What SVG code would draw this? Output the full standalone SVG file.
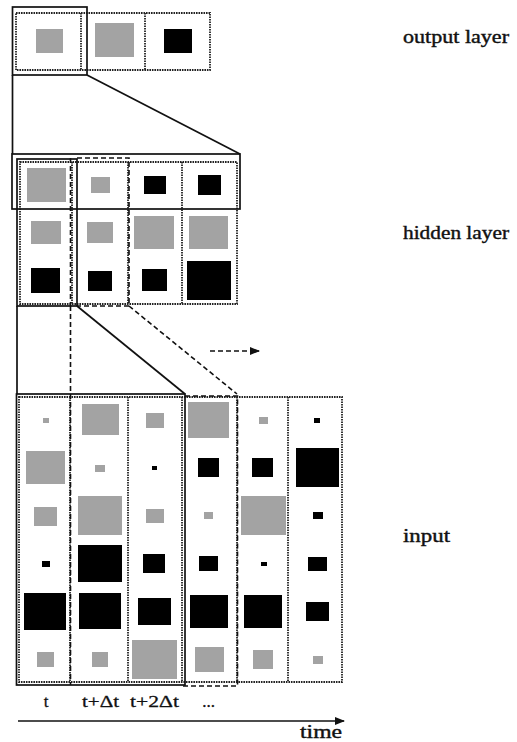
<svg xmlns="http://www.w3.org/2000/svg" width="517" height="742" viewBox="0 0 517 742">
<style>
.g{fill:#a3a3a3}
.b{fill:#000}
.dot{fill:none;stroke:#222;stroke-width:1.8;stroke-dasharray:1.6 0.9}
.dash{fill:none;stroke:#111;stroke-width:1.6;stroke-dasharray:5 3}
.sol{fill:none;stroke:#111;stroke-width:1.7}
.lbl{font-family:"Liberation Serif",serif;font-size:18px;fill:#111;stroke:#111;stroke-width:0.4}
.tl{font-family:"Liberation Serif",serif;font-size:17px;fill:#111;stroke:#111;stroke-width:0.3}
</style>
<defs>
<marker id="ah" markerWidth="10" markerHeight="8" refX="9" refY="4" orient="auto" markerUnits="userSpaceOnUse">
<path d="M0,0 L10,4 L0,8 Z" fill="#111"/>
</marker>
</defs>
<rect width="517" height="742" fill="#fff"/>

<g id="output-layer">
<rect class="dot" x="16" y="13" width="194" height="57"/>
<line class="dot" x1="81" y1="13" x2="81" y2="70"/>
<line class="dot" x1="145" y1="13" x2="145" y2="70"/>
<rect class="g" x="36" y="29" width="27" height="24"/>
<rect class="g" x="95" y="23" width="39" height="34"/>
<rect class="b" x="164" y="29" width="28" height="24"/>
</g>

<g id="hidden-layer">
<rect class="dot" x="20" y="162" width="217" height="142"/>
<line class="dot" x1="72" y1="162" x2="72" y2="304"/>
<line class="dot" x1="128" y1="162" x2="128" y2="304"/>
<line class="dot" x1="182" y1="162" x2="182" y2="304"/>
<rect class="g" x="27" y="168" width="39" height="34"/>
<rect class="g" x="91" y="177" width="19" height="16"/>
<rect class="b" x="144" y="176" width="22" height="18"/>
<rect class="b" x="198" y="175" width="23" height="20"/>
<rect class="g" x="31" y="221" width="30" height="23"/>
<rect class="g" x="87" y="222" width="26" height="21"/>
<rect class="g" x="134" y="216" width="40" height="33"/>
<rect class="g" x="189" y="216" width="39" height="33"/>
<rect class="b" x="31" y="268" width="29" height="25"/>
<rect class="b" x="88" y="271" width="24" height="20"/>
<rect class="b" x="142" y="269" width="25" height="22"/>
<rect class="b" x="187" y="261" width="44" height="39"/>
</g>

<g id="input-layer">
<rect class="dot" x="19" y="397" width="323" height="285"/>
<line class="dot" x1="70" y1="397" x2="70" y2="682"/>
<line class="dot" x1="128" y1="397" x2="128" y2="682"/>
<line class="dot" x1="182" y1="397" x2="182" y2="682"/>
<line class="dot" x1="237" y1="397" x2="237" y2="682"/>
<line class="dot" x1="288" y1="397" x2="288" y2="682"/>
<!-- col1 -->
<rect class="g" x="43" y="418" width="6" height="5"/>
<rect class="g" x="26" y="451" width="39" height="33"/>
<rect class="g" x="34" y="507" width="23" height="19"/>
<rect class="b" x="42" y="561" width="8" height="6"/>
<rect class="b" x="24" y="593" width="42" height="37"/>
<rect class="g" x="37" y="652" width="17" height="15"/>
<!-- col2 -->
<rect class="g" x="82" y="404" width="37" height="31"/>
<rect class="g" x="95" y="465" width="10" height="7"/>
<rect class="g" x="78" y="496" width="44" height="39"/>
<rect class="b" x="78" y="545" width="44" height="37"/>
<rect class="b" x="79" y="593" width="42" height="36"/>
<rect class="g" x="92" y="652" width="16" height="15"/>
<!-- col3 -->
<rect class="g" x="146" y="413" width="18" height="15"/>
<rect class="b" x="152" y="466" width="5" height="4"/>
<rect class="g" x="146" y="509" width="18" height="14"/>
<rect class="b" x="143" y="554" width="22" height="19"/>
<rect class="b" x="138" y="598" width="33" height="27"/>
<rect class="g" x="132" y="640" width="45" height="39"/>
<!-- col4 -->
<rect class="g" x="188" y="402" width="41" height="36"/>
<rect class="b" x="198" y="458" width="21" height="19"/>
<rect class="g" x="204" y="512" width="9" height="7"/>
<rect class="b" x="199" y="556" width="19" height="15"/>
<rect class="b" x="190" y="595" width="38" height="33"/>
<rect class="g" x="195" y="647" width="29" height="25"/>
<!-- col5 -->
<rect class="g" x="259" y="417" width="9" height="7"/>
<rect class="b" x="252" y="458" width="21" height="19"/>
<rect class="g" x="241" y="496" width="45" height="39"/>
<rect class="b" x="261" y="562" width="6" height="4"/>
<rect class="b" x="244" y="595" width="38" height="33"/>
<rect class="g" x="253" y="650" width="20" height="19"/>
<!-- col6 -->
<rect class="b" x="314" y="418" width="6" height="5"/>
<rect class="b" x="296" y="448" width="43" height="39"/>
<rect class="b" x="313" y="512" width="10" height="7"/>
<rect class="b" x="308" y="557" width="19" height="14"/>
<rect class="b" x="306" y="602" width="23" height="19"/>
<rect class="g" x="313" y="656" width="10" height="8"/>
</g>

<g id="connectors">
<rect class="sol" x="12.5" y="7" width="74.5" height="68"/>
<line class="sol" x1="12.5" y1="75" x2="12.5" y2="154"/>
<line class="sol" x1="87" y1="75" x2="240" y2="154"/>
<rect class="sol" x="12" y="154" width="228" height="55" stroke-width="2"/>
<rect class="sol" x="17" y="159" width="60" height="147"/>
<line class="sol" x1="17" y1="306" x2="17" y2="394"/>
<line class="sol" x1="77" y1="306" x2="185" y2="394"/>
<rect class="sol" x="16.5" y="394" width="168.5" height="291" stroke-width="2"/>
<path class="dash" d="M77,158 H129 V306 H77"/>
<line class="dash" x1="70.5" y1="158" x2="70.5" y2="306"/>
<line class="dash" x1="70.5" y1="306" x2="70.5" y2="394"/>
<line class="dash" x1="129" y1="306" x2="237" y2="394"/>
<path class="dash" d="M185,396 H237.5 V686 H183"/>
<line class="dash" x1="70.5" y1="394" x2="70.5" y2="685"/>
<line class="dash" x1="210" y1="351" x2="259" y2="351" marker-end="url(#ah)"/>
</g>

<g id="time-axis">
<line x1="18" y1="721" x2="344" y2="721" stroke="#111" stroke-width="1.5" marker-end="url(#ah)"/>
<text class="tl" x="46" y="707" text-anchor="middle">t</text>
<text class="tl" x="100.5" y="707" text-anchor="middle" textLength="37" lengthAdjust="spacingAndGlyphs">t+Δt</text>
<text class="tl" x="154.5" y="707" text-anchor="middle" textLength="49" lengthAdjust="spacingAndGlyphs">t+2Δt</text>
<text class="tl" x="208.5" y="707" text-anchor="middle">...</text>
<text class="lbl" x="300" y="738" textLength="42" lengthAdjust="spacingAndGlyphs">time</text>
</g>

<g id="labels">
<text class="lbl" x="403" y="43" textLength="106" lengthAdjust="spacingAndGlyphs">output layer</text>
<text class="lbl" x="403" y="239" textLength="106" lengthAdjust="spacingAndGlyphs">hidden layer</text>
<text class="lbl" x="403" y="542" textLength="47" lengthAdjust="spacingAndGlyphs">input</text>
</g>
</svg>
